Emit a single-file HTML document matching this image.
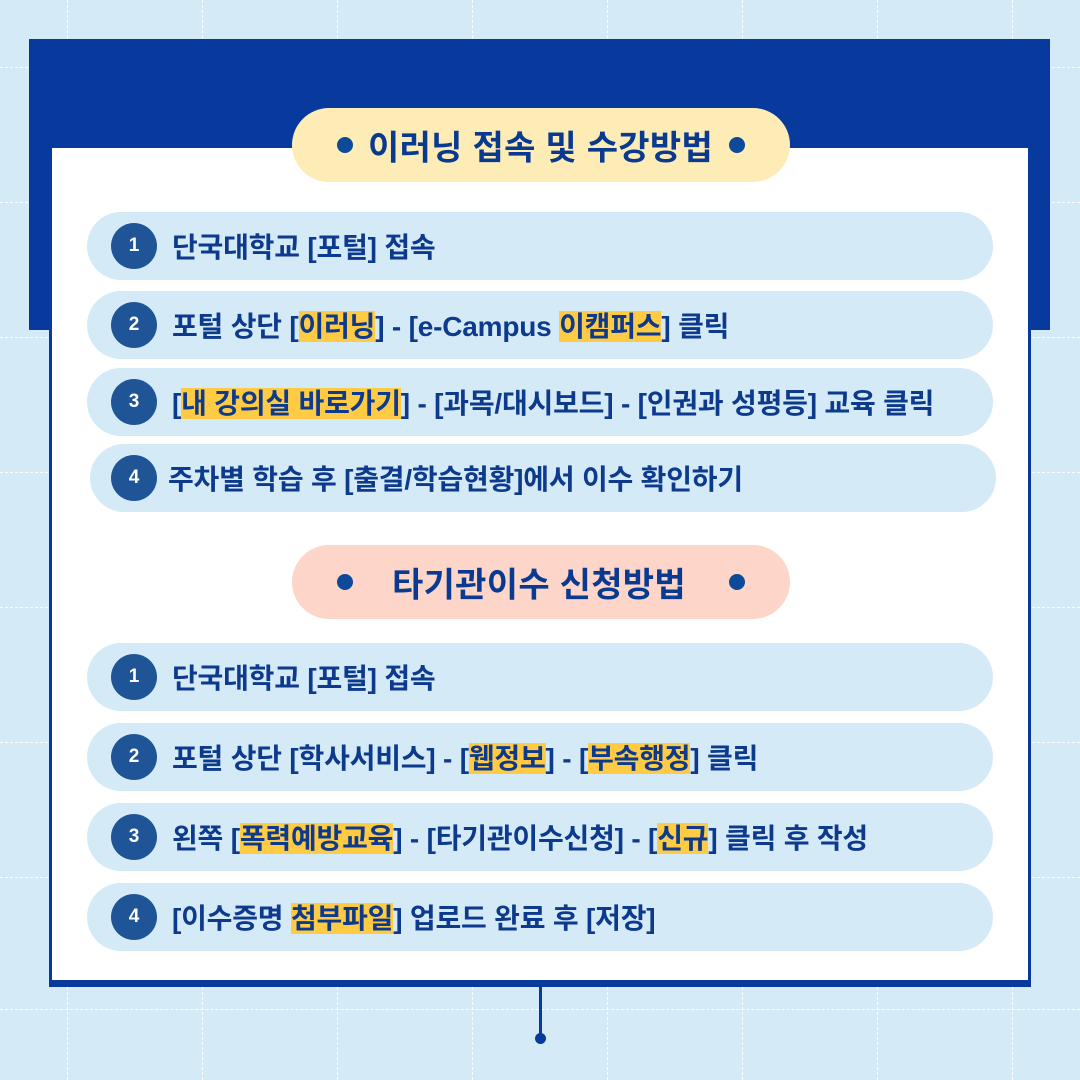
<!DOCTYPE html>
<html><head><meta charset="utf-8"><style>
*{margin:0;padding:0;box-sizing:border-box}
body{width:1080px;height:1080px;overflow:hidden;position:relative;background:#d4eaf7;font-family:"Liberation Sans","Noto Sans CJK KR",sans-serif}
.v{position:absolute;top:0;width:0;height:1080px;border-left:1.5px dashed rgba(255,255,255,.9)}
.h{position:absolute;left:0;height:0;width:1080px;border-top:1.5px dashed rgba(255,255,255,.9)}
.navy{position:absolute;left:29px;top:39px;width:1021px;height:291px;background:#073a9c}
.card{position:absolute;left:49px;top:148px;width:982px;height:839px;background:#fff;border:3px solid #073a9c;border-bottom:7px solid #073a9c;border-top:none}
.pill{position:absolute;left:292px;width:498px;height:74px;border-radius:37px;font-weight:bold;font-size:34px;color:#0a3a8f}
.pill .t{position:absolute;top:50%;transform:translateY(-50%);white-space:nowrap;letter-spacing:0.3px}
.dot{position:absolute;top:29px;width:16px;height:16px;border-radius:50%;background:#0d4a9a}
.row{position:absolute;width:906px;height:68px;border-radius:34px;background:#d4eaf7;font-weight:bold;font-size:28px;color:#0d3a8c;letter-spacing:-0.2px}
.row .t{position:absolute;left:85px;top:50%;transform:translateY(-50%);white-space:nowrap}
.num{position:absolute;left:24px;top:11px;width:46px;height:46px;border-radius:50%;background:#1f5597;color:#fff;font-size:19px;letter-spacing:0;display:flex;align-items:center;justify-content:center}
.hl{background:#ffcb45}
</style></head><body>
<div class="v" style="left:67px"></div><div class="v" style="left:202px"></div><div class="v" style="left:337px"></div><div class="v" style="left:472px"></div><div class="v" style="left:607px"></div><div class="v" style="left:742px"></div><div class="v" style="left:877px"></div><div class="v" style="left:1012px"></div>
<div class="h" style="top:67px"></div><div class="h" style="top:202px"></div><div class="h" style="top:337px"></div><div class="h" style="top:472px"></div><div class="h" style="top:607px"></div><div class="h" style="top:742px"></div><div class="h" style="top:877px"></div><div class="h" style="top:1009px"></div>
<div class="navy"></div>
<div class="card"></div>
<div style="position:absolute;left:539px;top:985px;width:2.5px;height:53px;background:#073a9c"></div>
<div style="position:absolute;left:535px;top:1033px;width:11px;height:11px;border-radius:50%;background:#073a9c"></div>

<div class="pill" style="top:108px;background:#feecb7"><span class="dot" style="left:45px"></span><span class="t" style="left:76px">이러닝 접속 및 수강방법</span><span class="dot" style="left:437px"></span></div>
<div class="row" style="left:87px;top:212px"><span class="num">1</span><span class="t">단국대학교 [포털] 접속</span></div>
<div class="row" style="left:87px;top:291px"><span class="num">2</span><span class="t">포털 상단 [<span class="hl">이러닝</span>] - [e-Campus <span class="hl">이캠퍼스</span>] 클릭</span></div>
<div class="row" style="left:87px;top:368px"><span class="num">3</span><span class="t">[<span class="hl">내 강의실 바로가기</span>] - [과목/대시보드] - [인권과 성평등] 교육 클릭</span></div>
<div class="row" style="left:90px;top:444px"><span class="num" style="left:21px">4</span><span class="t" style="left:78px">주차별 학습 후 [출결/학습현황]에서 이수 확인하기</span></div>

<div class="pill" style="top:545px;background:#fdd5c9"><span class="dot" style="left:45px"></span><span class="t" style="left:100px">타기관이수 신청방법</span><span class="dot" style="left:437px"></span></div>
<div class="row" style="left:87px;top:643px"><span class="num">1</span><span class="t">단국대학교 [포털] 접속</span></div>
<div class="row" style="left:87px;top:723px"><span class="num">2</span><span class="t">포털 상단 [학사서비스] - [<span class="hl">웹정보</span>] - [<span class="hl">부속행정</span>] 클릭</span></div>
<div class="row" style="left:87px;top:803px"><span class="num">3</span><span class="t">왼쪽 [<span class="hl">폭력예방교육</span>] - [타기관이수신청] - [<span class="hl">신규</span>] 클릭 후 작성</span></div>
<div class="row" style="left:87px;top:883px"><span class="num">4</span><span class="t">[이수증명 <span class="hl">첨부파일</span>] 업로드 완료 후 [저장]</span></div>
</body></html>
